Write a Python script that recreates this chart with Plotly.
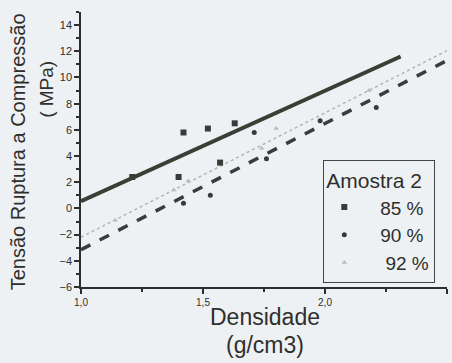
import plotly.graph_objects as go

# ---- data ----
dens_85 = [1.21, 1.40, 1.42, 1.52, 1.57, 1.63]
tens_85 = [2.4, 2.4, 5.8, 6.1, 3.5, 6.5]

dens_90 = [1.42, 1.53, 1.71, 1.76, 1.98, 2.21]
tens_90 = [0.4, 1.0, 5.8, 3.8, 6.7, 7.7]

dens_92 = [1.14, 1.38, 1.44, 1.74, 1.80, 2.18]
tens_92 = [-0.9, 1.4, 2.1, 4.6, 6.1, 9.0]

fit_x_85 = [1.0, 2.31]
fit_y_85 = [0.55, 11.6]
fit_x_90 = [1.0, 2.5]
fit_y_90 = [-3.15, 11.3]
fit_x_92 = [1.0, 2.5]
fit_y_92 = [-2.2, 12.05]

series_names = ["85 %", "90 %", "92 %"]
x_ticks = [1.0, 1.5, 2.0, 2.5]
x_tick_text = ["1,0", "1,5", "2,0", "2,5"]
y_ticks = [-6, -4, -2, 0, 2, 4, 6, 8, 10, 12, 14]

FONT = "Liberation Sans, Arial, sans-serif"
INK = "#2e2f2c"
BG = "#eef1f3"

fig = go.Figure()

# regression lines
fig.add_trace(go.Scatter(x=fit_x_85, y=fit_y_85, mode="lines", showlegend=False,
                         line=dict(color="#3a3e34", width=4)))
fig.add_trace(go.Scatter(x=fit_x_92, y=fit_y_92, mode="lines", showlegend=False,
                         line=dict(color="#b0b4b7", width=1.5, dash="dot")))
fig.add_trace(go.Scatter(x=fit_x_90, y=fit_y_90, mode="lines", showlegend=False,
                         line=dict(color="#3b3c3a", width=3.5, dash="dash")))

# points
fig.add_trace(go.Scatter(x=dens_85, y=tens_85, mode="markers", name="   " + series_names[0],
                         marker=dict(symbol="square", size=6, color="#3a3b38")))
fig.add_trace(go.Scatter(x=dens_90, y=tens_90, mode="markers", name="   " + series_names[1],
                         marker=dict(symbol="circle", size=5, color="#3a3b38")))
fig.add_trace(go.Scatter(x=dens_92, y=tens_92, mode="markers", name="    " + series_names[2],
                         marker=dict(symbol="triangle-up", size=5, color="#b8bcbf")))

fig.update_layout(
    width=452, height=363,
    margin=dict(l=81, r=5, t=12, b=76),
    paper_bgcolor=BG, plot_bgcolor=BG,
    separators=",.",
    font=dict(family=FONT, color=INK),
    showlegend=True,
    legend=dict(
        x=0.662, y=0.462, xanchor="left", yanchor="top",
        bgcolor=BG, bordercolor="#444", borderwidth=1,
        font=dict(size=19, family=FONT, color=INK),
        title=dict(text="Amostra 2", font=dict(size=21, family=FONT, color=INK)),
        itemwidth=30, tracegroupgap=3,
    ),
    xaxis=dict(
        range=[1.0, 2.5], tickvals=x_ticks, ticktext=x_tick_text,
        showgrid=False, zeroline=False, showline=True, linecolor=INK, linewidth=1.5,
        ticks="outside", ticklen=5, tickcolor=INK, tickwidth=1.5,
        tickfont=dict(size=10, family=FONT, color=INK),
        minor=dict(dtick=0.25, ticks="outside", ticklen=3, tickcolor=INK, showgrid=False),
    ),
    yaxis=dict(
        range=[-6, 15], tickvals=y_ticks,
        showgrid=False, zeroline=False, showline=True, linecolor=INK, linewidth=1.5,
        ticks="outside", ticklen=5, tickcolor=INK, tickwidth=1.5,
        tickfont=dict(size=11, family=FONT, color=INK),
        minor=dict(dtick=1, ticks="outside", ticklen=3, tickcolor=INK, showgrid=False),
    ),
    annotations=[
        dict(text="Tensão Ruptura a Compressão", xref="paper", yref="paper",
             x=-0.172, y=0.49, xanchor="center", yanchor="middle",
             textangle=-90, showarrow=False,
             font=dict(size=20, family=FONT, color=INK)),
        dict(text="( MPa)", xref="paper", yref="paper",
             x=-0.094, y=0.719, xanchor="center", yanchor="middle",
             textangle=-90, showarrow=False,
             font=dict(size=19, family=FONT, color=INK)),
        dict(text="Densidade", xref="paper", yref="paper",
             x=0.503, y=-0.108, xanchor="center", yanchor="middle", showarrow=False,
             font=dict(size=23, family=FONT, color=INK)),
        dict(text="(g/cm3)", xref="paper", yref="paper",
             x=0.503, y=-0.210, xanchor="center", yanchor="middle", showarrow=False,
             font=dict(size=23, family=FONT, color=INK)),
    ],
)

fig.write_html("out.html")
